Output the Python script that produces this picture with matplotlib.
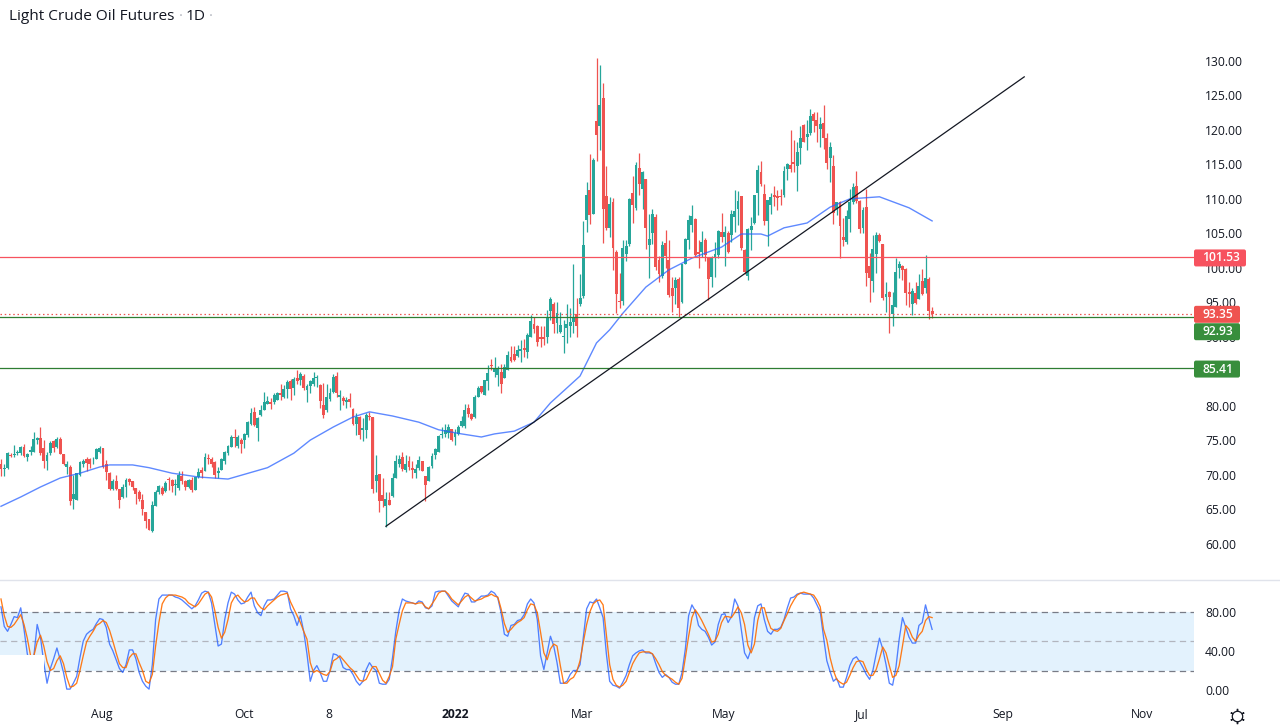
import matplotlib
matplotlib.use("Agg")
import matplotlib.pyplot as plt
from matplotlib.lines import Line2D
from matplotlib.patches import FancyBboxPatch
from matplotlib.transforms import IdentityTransform
import numpy as np

plt.rcParams['font.family'] = ['Open Sans', 'DejaVu Sans']

W, H = 1280, 728
PANE_R = 1194
GREEN, RED = '#26a69a', '#ef5350'
TEXT = '#131722'

# daily candles
opens = [
    71.6,70.8,71.0,72.9,72.8,73.2,73.1,74.0,72.5,73.3,
    73.3,75.0,75.3,73.8,72.0,73.1,74.8,74.0,75.2,73.0,
    71.1,71.1,66.4,66.3,70.0,71.5,72.2,72.2,72.2,72.3,
    73.3,73.8,71.5,70.3,67.9,69.1,67.9,66.7,68.2,69.4,
    69.0,68.0,67.5,66.3,64.5,63.5,61.8,65.5,67.4,68.1,
    67.6,69.3,69.2,68.5,68.1,69.8,69.1,68.2,69.2,67.8,
    69.6,70.7,70.5,72.4,72.3,71.8,70.2,70.7,71.9,73.1,
    74.0,75.4,74.1,75.0,75.0,75.7,77.4,79.1,76.8,78.6,
    79.4,80.3,80.5,80.6,80.8,81.9,81.3,82.4,83.6,82.5,
    84.0,83.7,84.3,82.2,82.9,83.1,84.0,83.0,80.1,79.3,
    80.9,82.0,84.3,81.3,81.1,80.6,81.0,79.5,77.3,78.3,
    76.4,76.4,78.5,78.3,69.1,70.1,67.0,65.4,66.3,66.9,
    69.5,71.6,72.5,70.6,72.0,71.0,70.3,71.0,71.9,69.8,
    69.1,71.2,72.8,73.3,75.7,75.9,76.0,76.6,75.5,75.9,
    77.0,77.0,79.6,78.8,78.3,81.2,82.8,81.5,83.6,85.9,
    84.9,84.5,84.9,84.0,85.2,87.0,87.5,87.2,88.0,88.4,
    87.8,90.0,91.8,91.6,89.9,89.9,89.9,93.8,94.8,92.0,
    90.7,89.9,91.2,91.6,92.2,93.3,94.8,95.9,107.0,111.3,
    107.8,121.3,120.5,124.6,110.4,105.8,109.5,102.3,95.2,95.2,
    102.0,103.5,110.8,108.7,114.5,111.5,112.9,103.3,105.0,107.4,
    101.1,98.8,103.6,101.1,97.0,97.0,98.4,95.0,100.6,104.0,
    106.2,107.1,102.3,102.3,104.0,101.5,98.6,101.5,101.9,105.2,
    104.5,105.1,104.8,107.4,108.5,110.4,102.6,98.8,105.5,106.5,
    110.9,113.9,110.7,106.8,109.1,110.5,110.4,110.4,110.6,114.3,
    114.9,115.3,114.7,117.4,120.7,119.0,119.5,122.3,121.4,120.1,
    121.0,118.9,115.9,114.8,108.6,109.6,104.4,103.7,107.1,109.6,
    111.9,109.7,105.7,108.8,100.3,98.1,102.0,104.8,103.4,95.7,
    96.5,93.3,94.3,99.9,100.2,99.8,96.5,94.8,96.3,95.5,
    98.1,97.0,98.4,93.7]
highs = [
    72.2,71.6,73.3,73.1,74.3,73.6,74.1,74.4,73.2,74.1,
    76.2,75.5,76.9,75.0,73.3,74.8,75.0,75.5,75.5,73.0,
    71.9,71.4,69.9,70.2,72.0,72.2,72.5,72.4,72.5,73.8,
    74.1,73.8,72.1,70.4,69.3,70.0,67.9,68.7,69.5,69.5,
    69.0,68.1,67.7,67.2,64.6,63.6,66.1,67.7,68.5,68.3,
    69.0,69.6,69.3,69.4,70.5,70.5,69.2,69.3,69.6,69.7,
    70.9,71.1,73.1,73.0,72.5,71.9,71.1,72.4,73.4,74.3,
    75.7,76.6,75.7,75.3,76.0,77.7,79.6,79.8,78.4,80.1,
    82.0,81.4,81.1,81.9,82.0,83.1,83.0,83.7,83.8,84.2,
    85.2,84.9,84.6,83.2,83.7,84.9,84.4,83.2,83.3,83.2,
    82.5,84.6,84.9,82.3,81.4,81.3,81.8,79.6,79.0,78.5,
    78.2,78.9,79.1,78.4,72.8,70.1,69.5,67.5,67.5,70.2,
    72.8,72.9,73.3,72.8,72.7,71.9,71.6,72.7,71.9,69.8,
    71.2,73.2,73.8,75.7,76.9,77.3,77.3,76.6,76.6,77.2,
    78.5,80.3,80.3,79.0,81.5,82.8,82.9,83.7,85.9,86.8,
    87.0,85.7,86.0,86.0,87.9,88.7,88.7,88.8,89.5,89.6,
    90.5,93.2,92.8,91.7,91.6,91.6,93.9,95.7,95.1,95.1,
    93.6,92.4,94.8,94.1,100.6,95.6,99.1,106.8,112.5,116.5,
    115.9,130.4,129.4,126.8,114.8,110.2,110.1,102.6,99.3,104.1,
    104.1,110.1,113.3,115.4,116.6,114.1,112.9,107.8,108.6,107.8,
    101.7,103.9,105.5,104.0,98.7,98.7,98.6,100.6,104.3,107.7,
    109.1,107.2,104.0,105.3,104.3,101.6,101.7,103.8,105.5,107.9,
    106.0,105.4,108.4,111.3,111.2,110.4,102.7,105.7,107.4,110.6,
    114.9,115.5,112.2,109.8,110.8,111.8,111.3,111.5,114.8,115.2,
    120.0,118.5,118.3,120.5,120.9,121.5,123.1,122.6,122.6,121.9,
    123.6,119.5,118.3,116.4,109.6,109.7,107.2,108.4,111.5,112.3,
    114.1,109.8,108.8,111.5,102.1,104.8,105.2,105.0,103.4,98.0,
    96.7,96.5,101.4,101.0,100.4,99.9,98.0,97.0,98.0,99.1,
    99.8,101.8,98.7,94.3]
lows = [
    69.8,69.8,70.8,72.5,72.5,72.8,72.8,72.5,72.0,72.8,
    73.3,74.4,72.8,71.0,70.7,72.8,73.3,73.8,73.0,71.4,
    70.1,65.6,65.0,66.3,69.8,71.1,70.5,70.9,71.5,72.2,
    73.2,71.0,69.2,67.8,67.8,67.8,65.2,66.6,66.8,68.5,
    67.8,65.8,66.2,64.1,62.3,61.9,61.7,65.4,67.2,67.0,
    67.5,67.8,67.5,67.0,67.7,68.7,67.7,68.1,67.4,67.7,
    69.5,69.5,70.5,71.5,71.1,69.5,69.5,70.6,71.6,72.8,
    74.0,74.0,73.8,73.2,73.8,75.5,77.2,77.0,74.9,78.5,
    79.3,80.3,79.5,80.3,80.8,80.8,81.1,81.1,80.8,81.5,
    83.2,83.0,82.2,80.6,81.8,82.9,82.7,79.6,78.2,79.1,
    80.7,81.9,81.3,79.3,80.1,79.6,79.8,77.2,75.7,75.1,
    74.9,75.3,77.9,67.3,67.4,64.5,65.3,62.4,65.6,66.8,
    69.5,71.1,70.5,70.4,70.7,69.5,69.5,70.7,70.5,66.1,
    69.0,70.9,72.3,73.3,75.3,75.5,75.3,74.9,74.3,75.7,
    76.9,76.7,78.4,77.9,78.2,81.2,81.9,81.5,82.2,85.2,
    84.2,82.8,81.9,84.0,85.1,86.4,86.5,87.0,86.4,87.0,
    86.9,90.0,90.5,88.7,88.5,88.8,89.1,92.4,90.6,90.6,
    90.5,87.6,89.1,89.9,90.5,90.0,94.5,95.6,105.2,106.4,
    107.8,115.5,117.1,103.6,105.5,104.5,99.7,93.4,94.1,94.6,
    101.0,103.1,106.5,108.4,110.6,108.6,102.7,98.5,103.5,99.7,
    97.9,98.5,99.9,95.8,93.6,94.8,92.9,94.9,100.6,102.7,
    105.2,101.7,99.9,101.6,101.0,95.3,97.2,98.7,101.4,103.8,
    100.3,102.1,103.8,105.2,106.2,102.6,99.1,98.2,102.6,106.4,
    107.6,111.8,106.2,103.2,107.8,109.0,108.4,109.1,110.3,112.7,
    113.9,113.9,111.2,115.1,118.2,117.1,119.3,119.7,118.3,117.5,
    117.3,114.4,112.4,106.4,107.6,101.4,103.1,103.5,105.2,109.3,
    109.4,105.0,105.0,97.4,95.1,96.5,99.2,103.8,95.3,93.6,
    90.6,91.6,94.3,98.5,98.2,94.6,94.3,93.1,94.7,95.5,
    96.0,96.4,92.5,92.7]
closes = [
    70.8,71.0,73.1,72.7,73.0,73.3,74.0,72.7,73.0,73.5,
    75.1,75.3,73.1,72.0,72.8,74.6,73.9,75.2,73.0,71.5,
    71.5,66.2,67.2,70.2,71.8,72.0,71.7,71.5,72.3,73.7,
    73.8,71.1,70.4,67.9,69.1,67.9,66.3,68.2,69.2,68.9,
    68.2,67.2,66.4,65.0,63.3,62.0,65.6,67.5,68.3,67.2,
    68.8,69.2,68.3,68.6,69.9,69.1,68.2,69.2,67.8,69.7,
    70.4,70.2,72.5,72.3,71.6,69.9,70.5,72.2,73.3,74.1,
    75.5,75.3,75.4,74.5,75.9,77.6,79.0,77.2,78.2,79.3,
    80.5,80.7,80.2,81.5,81.8,81.5,82.4,83.5,82.4,83.8,
    83.6,84.6,82.5,82.8,83.6,84.0,84.2,80.7,78.7,81.3,
    81.9,84.1,81.9,81.5,80.7,80.8,80.6,77.3,78.4,75.7,
    76.7,78.6,78.3,67.9,69.9,66.1,66.1,66.4,65.6,69.5,
    72.0,72.3,70.8,71.6,71.1,70.6,70.8,72.1,70.5,68.5,
    71.1,72.7,73.7,75.6,75.9,76.5,76.9,75.0,76.1,76.9,
    77.8,79.4,78.8,78.1,81.2,82.6,82.0,83.7,84.8,85.7,
    85.5,85.4,83.1,85.6,87.3,86.5,86.6,88.1,88.2,88.1,
    90.3,92.3,91.1,89.3,89.6,89.7,92.9,95.4,91.8,93.5,
    91.7,90.1,91.8,92.2,92.8,91.5,95.6,103.3,110.6,107.6,
    115.6,119.3,123.6,108.5,105.8,109.3,102.9,96.2,95.0,102.8,
    103.1,110.0,109.1,114.9,112.2,113.9,105.8,104.2,107.8,100.1,
    99.1,103.3,101.7,96.1,95.9,98.2,94.2,100.6,104.2,106.9,
    107.5,101.9,102.0,103.8,101.9,98.4,101.6,102.0,105.3,104.5,
    105.2,102.3,107.8,108.2,109.7,102.8,99.4,105.6,106.1,110.5,
    114.2,112.2,106.8,109.8,110.2,110.2,110.1,110.2,114.0,115.1,
    114.4,115.1,116.8,118.9,118.3,119.4,122.0,121.3,120.5,120.9,
    118.8,115.2,117.5,107.9,109.6,106.1,104.1,107.5,109.6,111.7,
    109.7,105.6,108.4,99.3,98.5,102.7,104.7,103.9,95.6,96.2,
    95.7,94.6,99.4,100.6,99.7,96.3,96.2,96.6,94.9,97.3,
    96.2,98.5,93.8,93.35]

# moving average, read at the bars where it bends
ma_bar = [0, 6, 12, 18, 24, 30, 33, 40, 45, 52, 60, 69, 73, 81, 89, 94, 101, 107, 112, 119,
          127, 133, 140, 146, 150, 156, 162, 167, 176, 181, 185, 189, 196, 203, 210, 219,
          225, 231, 233, 238, 245, 252, 258, 267, 276, 283]
ma_val = [65.4, 66.75, 68.2, 69.5, 70.2, 71.1, 71.4, 71.4, 71.0, 70.2, 69.65, 69.35, 69.9, 71.0,
          73.1, 75.0, 76.9, 78.35, 79.1, 78.5, 77.6, 76.5, 75.9, 75.45, 75.9, 76.3, 77.6, 80.4,
          84.3, 89.1, 91.0, 93.4, 97.2, 99.7, 101.4, 103.0, 104.9, 104.9, 104.6, 105.8, 106.5,
          108.8, 110.0, 110.3, 108.7, 106.8]

# support / resistance levels and trend line
level_red = 101.53
level_dotted = 93.35
level_green = [92.93, 85.41]
trend_bar = [117, 311]
trend_val = [62.5, 127.7]

# stochastic
stoch_k = [
    85,65,60,67,75,74,84,62,37,25,
    35,67,54,28,7,22,32,43,31,18,
    1,1,7,14,33,50,57,60,62,68,
    73,72,64,47,40,31,22,18,26,41,
    41,32,18,9,4,1,26,72,93,97,
    97,97,97,95,94,92,89,86,83,86,
    92,99,101,100,89,67,45,47,72,89,
    100,98,92,88,89,95,100,86,79,76,
    86,92,92,93,97,101,101,100,83,76,
    66,76,60,37,9,20,25,18,9,9,
    20,37,36,33,23,21,21,16,9,5,
    9,21,28,23,20,7,6,6,11,33,
    60,81,93,91,90,89,88,91,90,84,
    83,86,100,101,101,101,96,91,88,85,
    93,99,98,90,90,93,96,96,97,101,
    99,94,79,57,55,66,67,71,72,77,
    88,93,89,72,35,21,38,55,45,28,
    7,7,9,16,20,20,26,54,83,90,
    89,93,84,74,37,9,5,4,2,8,
    15,26,35,38,40,41,38,38,37,27,
    18,13,16,13,8,6,6,18,42,76,
    87,81,66,62,60,54,46,49,67,77,
    78,69,75,93,86,62,38,32,42,74,
    86,88,72,60,57,62,62,64,72,84,
    94,95,98,99,98,98,98,94,87,80,
    54,30,19,9,12,3,3,13,25,32,
    34,29,23,16,11,20,37,53,42,26,
    7,5,23,52,74,64,54,48,48,66,
    69,87,74,62]
stoch_d = [
    93,76,65,64,67,72,77,67,53,35,
    35,49,56,45,29,20,22,30,35,27,
    13,3,4,7,20,35,49,55,60,66,
    68,71,69,61,50,38,27,23,23,33,
    37,37,28,20,9,7,16,45,69,88,
    94,97,97,97,96,95,93,89,87,85,
    88,93,98,100,95,81,64,53,59,72,
    89,95,97,93,90,91,94,94,88,84,
    82,86,89,92,95,97,98,99,90,83,
    76,69,60,52,28,18,20,18,16,15,
    19,30,32,35,31,27,23,20,15,10,
    9,11,18,24,24,17,10,7,14,24,
    52,67,81,89,89,89,88,89,89,85,
    83,88,93,99,101,101,98,93,90,87,
    91,95,97,94,91,92,93,95,96,98,
    96,95,83,68,59,62,66,69,71,74,
    82,88,87,79,59,38,31,42,47,45,
    25,7,7,11,13,19,30,49,67,80,
    88,91,92,87,57,26,11,5,3,5,
    9,18,27,33,38,39,39,39,37,32,
    26,19,15,13,11,8,6,12,33,55,
    74,82,77,71,64,57,49,50,57,69,
    75,75,74,79,85,79,67,46,38,47,
    71,84,84,72,63,61,60,63,71,78,
    86,92,97,99,100,99,98,97,92,85,
    62,51,33,20,11,8,6,8,15,23,
    29,30,29,21,15,15,21,32,44,38,
    25,13,15,25,45,66,62,54,50,56,
    60,71,75,74]

# time axis labels, at the bar under each label
time_labels = ['Aug', 'Oct', '8', '2022', 'Mar', 'May', 'Jul', 'Sep', 'Nov']
time_bars = [30.7, 73.9, 99.7, 138, 176.6, 219.7, 261.7, 304.6, 346.8]

# 85.00 sits fully behind the 85.41 tag in the original
price_ticks = [60, 65, 70, 75, 80, 90, 95, 100, 105, 110, 115, 120, 125, 130]
stoch_ticks = [0, 40, 80]

fig = plt.figure(figsize=(W / 100, H / 100), dpi=100)
ax = fig.add_axes([0, 1 - 579 / H, PANE_R / W, 579 / H])
st = fig.add_axes([0, 1 - 704 / H, PANE_R / W, 124 / H])

# main pane
x = np.arange(len(opens))
o, h, l, c = map(np.array, (opens, highs, lows, closes))
cols = [GREEN if c[i] >= o[i] else RED for i in x]
ax.vlines(x, l, h, colors=cols, lw=0.9, zorder=2)
ax.bar(x, np.abs(c - o), bottom=np.minimum(o, c), width=0.88, color=cols, lw=0, zorder=2.1)
ax.plot(ma_bar, ma_val, color='#2962ff', lw=1.0, alpha=0.75, zorder=3)
ax.axhline(level_red, color='#f7525f', lw=0.9, zorder=4)
ax.axhline(level_dotted, color='#ef5350', lw=0.9, ls=(0, (1.2, 2.2)), zorder=4)
for v in level_green:
    ax.axhline(v, color='#2e7d32', lw=0.9, zorder=4)
ax.plot(trend_bar, trend_val, color='#131722', lw=0.9, zorder=4)

xlim = (-0.3, 362.6)
ax.set_xlim(xlim)
ax.set_ylim(54.85, 138.85)
ax.yaxis.tick_right()
ax.set_yticks(price_ticks)
ax.set_yticklabels(['%.2f' % v for v in price_ticks])
ax.tick_params(axis='y', length=0, pad=8, labelsize=8.7, labelcolor=TEXT)
ax.set_xticks([])

# stochastic pane
st.fill_between(xlim, 20, 80, color='#e3f2fd', lw=0, zorder=1)
st.axhline(80, color='#787b86', lw=0.9, ls=(0, (5, 3.5)), zorder=2)
st.axhline(50, color='#b2b5be', lw=0.9, ls=(0, (5, 3.5)), zorder=2)
st.axhline(20, color='#787b86', lw=0.9, ls=(0, (5, 3.5)), zorder=2)
st.plot(x, stoch_k, color='#2962ff', lw=0.95, alpha=0.8, zorder=3)
st.plot(x, stoch_d, color='#ff6d00', lw=0.95, alpha=0.9, zorder=3.1)
# blank patch at the lower left of the band in the original
st.fill_between([-0.3, 13], 15, 35.6, color='white', lw=0, zorder=5)
st.set_xlim(xlim)
st.set_ylim(-14.2, 112.4)
st.yaxis.tick_right()
st.set_yticks(stoch_ticks)
st.set_yticklabels(['%.2f' % v for v in stoch_ticks])
st.tick_params(axis='y', length=0, pad=8, labelsize=8.7, labelcolor=TEXT)
st.set_xticks(time_bars)
st.set_xticklabels(time_labels)
st.tick_params(axis='x', length=0, pad=3, labelsize=8.7, labelcolor=TEXT)
for t in st.get_xticklabels():
    if t.get_text() == '2022':
        t.set_fontweight('bold')

for a in (ax, st):
    a.set_facecolor('none')
    for s in a.spines.values():
        s.set_visible(False)

fig.add_artist(Line2D([0, 1], [1 - 579.5 / H] * 2, color='#e0e3eb', lw=1))


# coloured price tags on the scale
def price_tag(price, label, color, width, shift=0):
    cy = ax.transData.transform((0, price))[1] - shift - 0.7
    box = FancyBboxPatch((PANE_R, cy - 8.5), width, 17, boxstyle='round,pad=0,rounding_size=2',
                         fc=color, ec='none', transform=IdentityTransform(), zorder=6)
    fig.add_artist(box)
    fig.text((PANE_R + width / 2 + 1) / W, cy / H, label, color='white', fontsize=8.7,
             fontweight='semibold', ha='center', va='center', zorder=7)


price_tag(level_red, '101.53', '#f7525f', 52)
price_tag(level_green[1], '85.41', '#388e3c', 46)
price_tag(level_green[0], '92.93', '#388e3c', 46, shift=14.5)
price_tag(level_dotted, '93.35', '#ef5350', 46)

# title
fig.text(9 / W, 1 - 17 / H, 'Light Crude Oil Futures', fontsize=11.1, color=TEXT, va='center')
fig.text(181 / W, 1 - 17 / H, '·', fontsize=11.1, color='#b2b5be', va='center', ha='center')
fig.text(196 / W, 1 - 17 / H, '1D', fontsize=11.1, color=TEXT, va='center', ha='center')
fig.text(211 / W, 1 - 17 / H, '·', fontsize=11.1, color='#b2b5be', va='center', ha='center')

# settings icon
gx, gy = 1237 / W, 1 - 715.5 / H
fig.add_artist(Line2D([gx], [gy], marker=(6, 2, 0), ms=11, mec='#131722', mew=1.0))
fig.add_artist(Line2D([gx], [gy], marker='o', ms=7.5, mfc='white', mec='#131722', mew=0.9))

fig.savefig('out.png', dpi=100)
